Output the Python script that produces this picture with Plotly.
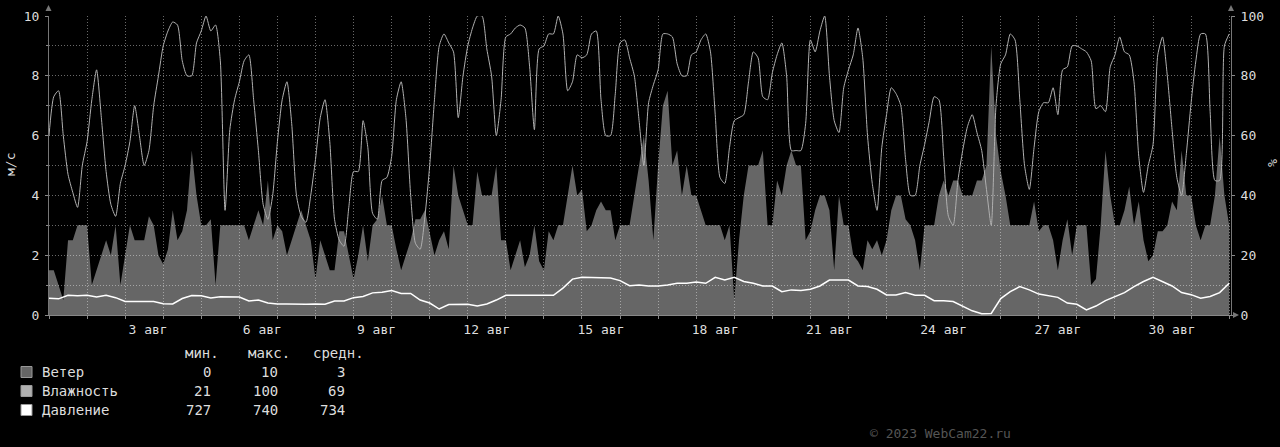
import pandas as pd
import plotly.graph_objects as go

# ---------------- data ----------------
# 3-hourly samples starting 2023-08-01 00:00
humidity = [
    60, 73, 75, 60, 47, 41, 36, 50,   # 1 Aug
    58, 72, 82, 66, 48, 37, 33, 44,   # 2
    50, 58, 70, 60, 50, 55, 70, 80,   # 3
    90, 95, 98, 97, 85, 80, 80, 91,   # 4
    95, 100, 95, 97, 85, 35, 62, 72,  # 5
    78, 85, 87, 72, 55, 37, 32, 40,   # 6
    58, 72, 78, 64, 40, 33, 31, 40,   # 7
    52, 66, 72, 58, 32, 25, 23, 36,   # 8
    48, 48, 65, 56, 34, 32, 45, 46,   # 9
    53, 72, 78, 66, 40, 24, 22, 33,   # 10
    50, 72, 90, 94, 91, 88, 66, 80,   # 11
    90, 96, 100, 100, 89, 80, 60, 72, # 12
    93, 94, 96, 97, 96, 83, 62, 89,   # 13
    90, 94, 94, 100, 94, 75, 78, 87,  # 14
    86, 87, 94, 95, 72, 60, 60, 74,   # 15
    91, 92, 86, 80, 65, 50, 71, 77,   # 16
    82, 94, 94, 93, 84, 80, 80, 87,   # 17
    88, 92, 94, 88, 67, 46, 44, 56,   # 18
    65, 66, 67, 78, 88, 86, 73, 72,   # 19
    81, 87, 91, 80, 55, 55, 55, 64,   # 20
    92, 88, 95, 100, 80, 65, 61, 76,  # 21
    82, 87, 96, 86, 60, 44, 35, 56,   # 22
    67, 76, 74, 70, 52, 40, 40, 50,   # 23
    57, 65, 73, 72, 53, 33, 30, 45,   # 24
    55, 63, 67, 61, 55, 42, 30, 70,   # 25
    84, 87, 94, 92, 72, 50, 42, 56,   # 26
    68, 71, 71, 76, 67, 82, 83, 90,   # 27
    90, 89, 88, 85, 69, 70, 68, 83,   # 28
    87, 93, 88, 87, 78, 53, 41, 50,   # 29
    57, 87, 93, 80, 62, 46, 40, 54,   # 30
    71, 85, 94, 94, 68, 45, 45, 90,   # 31
    94,                               # 1 Sep
]

wind = [
    1.5, 1.5, 1, 0.5, 2.5, 2.5, 3, 3,
    3, 1, 1.5, 2, 2.5, 2, 3, 1,
    2, 3, 2.5, 2.5, 2.5, 3.3, 3, 2,
    1.7, 2.2, 3.5, 2.5, 2.8, 3.5, 5.5, 4,
    3, 3, 3.2, 1, 3, 3, 3, 3,
    3, 3, 2.5, 3, 3.5, 3, 4.5, 2.5,
    3, 2.8, 2, 2.5, 3, 3.5, 3, 2.5,
    1.2, 2.5, 2, 1.5, 1.5, 2.8, 2.8, 2,
    1.2, 2, 3, 1.8, 3, 3.2, 4, 3,
    3, 2.2, 1.5, 2, 2.5, 3.2, 3.2, 3.5,
    2.8, 2, 2.5, 2.8, 2.2, 5, 4, 3.5,
    3, 3, 4.8, 4, 4, 4, 5, 2.5,
    2.5, 1.5, 2, 2.5, 1.6, 2, 3, 1.8,
    1.5, 2.8, 2.5, 3, 3, 4, 5, 4,
    4.2, 2.8, 3, 3.5, 3.8, 3.5, 3.5, 2.5,
    3, 3, 3, 4, 5, 6, 4.5, 2.5,
    5, 7, 7.5, 5, 5.5, 4, 5, 4,
    4, 3.5, 3, 3, 3, 3, 2.5, 3,
    0.5, 2.5, 4, 5, 5, 5, 5.5, 3,
    3, 4.5, 4, 5, 5.5, 5, 5, 2.5,
    2.8, 3.5, 4, 4, 3.5, 1.5, 4, 3,
    3, 2, 1.8, 1.5, 2.5, 2.2, 2.5, 2,
    2.5, 3.5, 4, 4, 3.2, 3, 2.5, 1.5,
    3, 3, 3, 4, 4.5, 4, 4.5, 4.5,
    4, 4, 4, 4.5, 4.5, 5, 9, 6,
    4.8, 4, 3, 3, 3, 3, 3, 3.8,
    2.8, 3, 3, 2.5, 1.5, 2.5, 3.2, 2,
    3, 3, 3, 1, 1.2, 3, 5.5, 4,
    3, 3, 3.5, 4.3, 3, 3.8, 2.5, 1.8,
    2, 2.8, 2.8, 3, 3.8, 3.5, 5.5, 4,
    4, 3, 2.5, 3, 3, 4, 6, 4,
    3,
]

# 6-hourly pressure, mm Hg
pressure = [
    732.7, 732.5, 733.7, 733.5,
    733.7, 733.1, 733.7, 732.9,
    731.6, 731.6, 731.6, 731.6,
    730.9, 730.8, 732.6, 733.6,
    733.5, 732.8, 733.2, 733.1,
    733.1, 731.8, 732.1, 731.1,
    730.8, 730.8, 730.7, 730.7,
    730.8, 730.7, 731.8, 731.8,
    732.9, 733.3, 734.5, 734.7,
    735.3, 734.3, 734.3, 732.1,
    731.1, 729.1, 730.6, 730.6,
    730.7, 730.1, 730.8, 732.1,
    733.7, 733.7, 733.7, 733.7,
    733.7, 733.7, 736.1, 739.1,
    739.7, 739.7, 739.7, 739.5,
    738.6, 736.9, 737.1, 736.8,
    736.8, 737.1, 737.7, 737.7,
    738.1, 737.7, 739.7, 738.8,
    739.7, 738.3, 737.7, 736.8,
    736.8, 734.9, 735.5, 735.3,
    735.7, 736.8, 738.8, 738.8,
    738.8, 736.8, 736.6, 735.7,
    733.8, 733.8, 734.6, 733.7,
    733.7, 731.9, 731.9, 731.6,
    730.1, 728.5, 727.5, 727.6,
    732.6, 734.9, 736.6, 735.5,
    734.1, 733.5, 733.0, 731.1,
    730.7, 728.8, 730.1, 731.9,
    733.3, 734.6, 736.6, 738.3,
    739.7, 738.3, 736.8, 734.6,
    733.9, 732.7, 733.3, 734.6,
    737.7,
]

label_days = [3, 6, 9, 12, 15, 18, 21, 24, 27, 30]
month_label = "авг"

legend_names = ["Ветер", "Влажность", "Давление"]
legend_min = ["0", "21", "727"]
legend_max = ["10", "100", "740"]
legend_avg = ["3", "69", "734"]
legend_head = ["мин.", "макс.", "средн."]

# ---------------- figure ----------------
t3 = pd.date_range("2023-08-01", periods=len(wind), freq="3h")
t6 = pd.date_range("2023-08-01", periods=len(pressure), freq="6h")

W, H = 1280, 447
L, R, T, B = 49, 49, 16, 132
PW, PH = W - L - R, H - T - B
FONT = "DejaVu Sans Mono"


def px(xp):
    return (xp - L) / PW


def py(yp):
    return (H - B - yp) / PH


wind_color = "#666666"
hum_color = "#b0b0b0"
pres_color = "#ffffff"
grid_color = "rgba(140,140,140,0.75)"

fig = go.Figure()
fig.add_trace(go.Scatter(x=t3, y=wind, mode="lines", fill="tozeroy",
                         line=dict(width=0, color=wind_color),
                         fillcolor="rgba(255,255,255,0.4)",
                         name=legend_names[0], yaxis="y"))
fig.add_trace(go.Scatter(x=t3, y=humidity, mode="lines",
                         line=dict(width=1, color=hum_color, shape="spline", smoothing=0.6),
                         name=legend_names[1], yaxis="y2"))
fig.add_trace(go.Scatter(x=t6, y=pressure, mode="lines",
                         line=dict(width=1.5, color=pres_color),
                         name=legend_names[2], yaxis="y3"))

tickvals = [f"2023-08-{d:02d} 12:00" for d in label_days]
ticktext = [("\u00a0" if d < 10 else "") + f"{d} {month_label}" for d in label_days]

fig.update_layout(
    width=W, height=H, autosize=False,
    margin=dict(l=L, r=R, t=T, b=B, pad=0, autoexpand=False),
    paper_bgcolor="#000000", plot_bgcolor="#000000",
    showlegend=False, hovermode=False,
    font=dict(family=FONT, color="#dddddd", size=13),
    xaxis=dict(
        range=["2023-08-01 00:00", "2023-09-01 01:09"],
        tickmode="array", tickvals=tickvals, ticktext=ticktext,
        ticks="", showgrid=False, zeroline=False,
        showline=True, linecolor="#888888", linewidth=1,
        tickfont=dict(size=13, color="#dddddd"),
        ticklabelstandoff=2,
        minor=dict(tickmode="linear", tick0="2023-08-01", dtick=86400000,
                   showgrid=True, gridcolor=grid_color, griddash="1px,2px",
                   gridwidth=1, ticks="outside", ticklen=3, tickcolor="#888888"),
    ),
    yaxis=dict(
        range=[0, 10], dtick=2, tick0=0,
        showgrid=True, gridcolor=grid_color, griddash="1px,2px", gridwidth=1,
        zeroline=False, showline=True, linecolor="#777777",
        ticks="outside", ticklen=3, tickcolor="#888888",
        tickfont=dict(size=13, color="#dddddd"), ticklabelstandoff=3,
        minor=dict(dtick=1, showgrid=True, gridcolor=grid_color,
                   griddash="1px,2px", ticks="outside", ticklen=2, tickcolor="#888888"),
    ),
    yaxis2=dict(
        range=[0, 100], dtick=20, overlaying="y", side="right",
        showgrid=False, zeroline=False, showline=True, linecolor="#777777",
        ticks="outside", ticklen=3, tickcolor="#888888",
        tickfont=dict(size=13, color="#dddddd"), ticklabelstandoff=3,
    ),
    yaxis3=dict(range=[727.1, 827.1], overlaying="y", visible=False),
)

ann = []
ann.append(dict(x=px(10), y=py(165), xref="paper", yref="paper", text="м/с",
                textangle=-90, xanchor="center", yanchor="middle",
                showarrow=False, font=dict(size=13, color="#dddddd")))
ann.append(dict(x=px(1273), y=py(163), xref="paper", yref="paper", text="%",
                textangle=90, xanchor="center", yanchor="middle",
                showarrow=False, font=dict(size=13, color="#dddddd")))

LF = 14
head_x = [183, 246, 311]
for hx, h in zip(head_x, legend_head):
    ann.append(dict(x=px(hx), y=py(353), xref="paper", yref="paper", text=h,
                    xanchor="left", yanchor="middle", showarrow=False,
                    font=dict(size=LF, color="#dddddd")))

row_y = [372, 391, 410]
box_colors = [wind_color, hum_color, pres_color]
shapes = []
for i, name in enumerate(legend_names):
    yc = row_y[i]
    shapes.append(dict(type="rect", xref="paper", yref="paper",
                       x0=px(21), x1=px(32), y0=py(yc + 5.5), y1=py(yc - 5.5),
                       fillcolor=box_colors[i], line=dict(color="#999999", width=1)))
    ann.append(dict(x=px(40), y=py(yc), xref="paper", yref="paper", text=name,
                    xanchor="left", yanchor="middle", showarrow=False,
                    font=dict(size=LF, color="#dddddd")))
    for cx, vals in zip([213, 280, 347], [legend_min, legend_max, legend_avg]):
        ann.append(dict(x=px(cx), y=py(yc), xref="paper", yref="paper", text=vals[i],
                        xanchor="right", yanchor="middle", showarrow=False,
                        font=dict(size=LF, color="#dddddd")))

ann.append(dict(x=px(940), y=py(433), xref="paper", yref="paper",
                text="© 2023 WebCam22.ru", xanchor="center", yanchor="middle",
                showarrow=False, font=dict(size=13, color="#555555")))

# axis arrow heads
arrow_col = "#777777"
shapes.append(dict(type="path", xref="paper", yref="paper",
                   path=f"M {px(45.5)} {py(11)} L {px(51.5)} {py(11)} L {px(48.5)} {py(5)} Z",
                   fillcolor=arrow_col, line=dict(width=0)))
shapes.append(dict(type="path", xref="paper", yref="paper",
                   path=f"M {px(1228)} {py(11)} L {px(1234)} {py(11)} L {px(1231)} {py(5)} Z",
                   fillcolor=arrow_col, line=dict(width=0)))
shapes.append(dict(type="path", xref="paper", yref="paper",
                   path=f"M {px(1233)} {py(312)} L {px(1233)} {py(318)} L {px(1239)} {py(315)} Z",
                   fillcolor=arrow_col, line=dict(width=0)))

fig.update_layout(annotations=ann, shapes=shapes)
fig.write_html("out.html", config={"displayModeBar": False, "staticPlot": True},
               post_script="document.body.style.margin='0px';document.body.style.background='#000';")
